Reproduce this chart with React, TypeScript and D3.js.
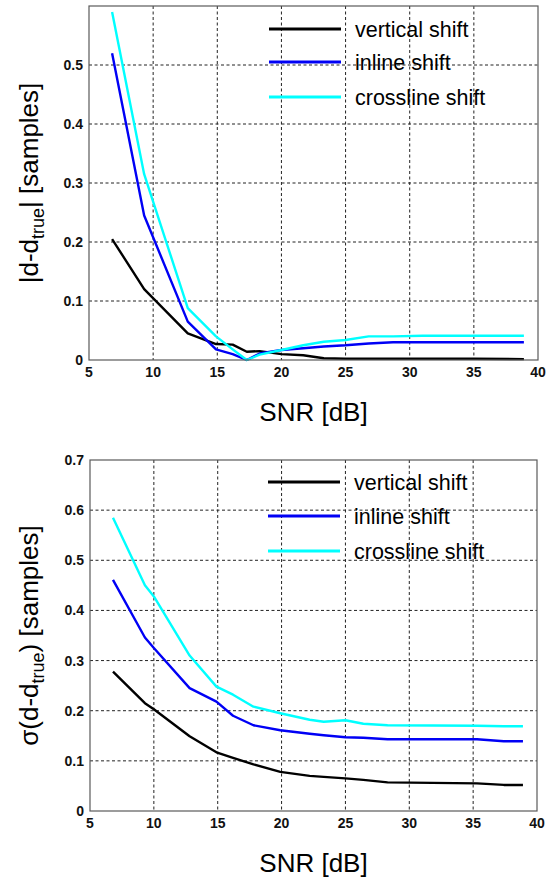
import React from 'react';
import * as d3 from 'd3';

// SNR sample positions (dB)
const snrTop = [6.8, 9.3, 12.7, 14.9, 16.2, 17.3, 18.3, 20, 21.7, 23.3, 25, 26.8, 28.7, 31, 35, 38.9];
const biasVertical = [0.205, 0.12, 0.045, 0.027, 0.026, 0.014, 0.015, 0.01, 0.008, 0.003, 0.002, 0.002, 0.002, 0.002, 0.002, 0.0015];
const biasInline = [0.52, 0.245, 0.065, 0.018, 0.01, 0.0, 0.011, 0.017, 0.02, 0.023, 0.025, 0.028, 0.03, 0.03, 0.03, 0.03];
const biasCrossline = [0.59, 0.315, 0.088, 0.04, 0.018, 0.0, 0.009, 0.017, 0.025, 0.031, 0.034, 0.04, 0.04, 0.041, 0.041, 0.041];

const snrBottom = [6.8, 9.3, 10, 12.8, 14.9, 16.2, 17.8, 19.9, 22.2, 23.3, 25, 26.4, 28.3, 35.3, 37.4, 38.9];
const stdVertical = [0.278, 0.215, 0.203, 0.149, 0.117, 0.106, 0.093, 0.078, 0.07, 0.068, 0.065, 0.062, 0.057, 0.055, 0.052, 0.052];
const stdInline = [0.461, 0.346, 0.325, 0.245, 0.218, 0.19, 0.171, 0.161, 0.154, 0.151, 0.147, 0.146, 0.143, 0.143, 0.139, 0.139];
const stdCrossline = [0.585, 0.45, 0.428, 0.31, 0.248, 0.232, 0.208, 0.195, 0.182, 0.178, 0.181, 0.174, 0.171, 0.17, 0.169, 0.169];

const seriesNames = ['vertical shift', 'inline shift', 'crossline shift'];
const seriesColors = ['#000000', '#0000f5', '#00ffff'];
const xTicks = [5, 10, 15, 20, 25, 30, 35, 40];
const topYTicks = [0, 0.1, 0.2, 0.3, 0.4, 0.5];
const bottomYTicks = [0, 0.1, 0.2, 0.3, 0.4, 0.5, 0.6, 0.7];

const FONT = '"Liberation Sans", Arial, Helvetica, sans-serif';

type PanelProps = {
  left: number;
  right: number;
  top: number;
  bottom: number;
  yMax: number;
  yTicks: number[];
  snr: number[];
  values: number[][];
  legendX: number;
  legendY: number[];
  yLabel: React.ReactNode;
};

const Panel = ({ left, right, top, bottom, yMax, yTicks, snr, values, legendX, legendY, yLabel }: PanelProps) => {
  const x = d3.scaleLinear().domain([5, 40]).range([left, right]);
  const y = d3.scaleLinear().domain([0, yMax]).range([bottom, top]);

  const line = d3
    .line<number>()
    .x((_, i) => x(snr[i]))
    .y((d) => y(d));

  const fmt = (v: number) => (v === 0 ? '0' : d3.format('.1f')(v));

  return (
    <g>
      {/* grid */}
      {xTicks
        .filter((t) => t > 5 && t < 40)
        .map((t) => (
          <line key={'gx' + t} x1={x(t)} x2={x(t)} y1={top} y2={bottom} stroke="#222" strokeWidth={1} strokeDasharray="3,2.5" />
        ))}
      {yTicks
        .filter((t) => t > 0 && t < yMax - 1e-9)
        .map((t) => (
          <line key={'gy' + t} x1={left} x2={right} y1={y(t)} y2={y(t)} stroke="#222" strokeWidth={1} strokeDasharray="3,2.5" />
        ))}

      {/* curves */}
      {values.map((vals, i) => (
        <path key={'s' + i} d={line(vals) || ''} fill="none" stroke={seriesColors[i]} strokeWidth={2.4} strokeLinejoin="round" />
      ))}

      {/* frame */}
      <rect x={left} y={top} width={right - left} height={bottom - top} fill="none" stroke="#5a5a5a" strokeWidth={1.2} />

      {/* tick labels */}
      {xTicks.map((t) => (
        <text key={'tx' + t} x={x(t)} y={bottom + 16.5} textAnchor="middle" fontFamily={FONT} fontWeight="bold" fontSize={14} fill="#111">
          {t}
        </text>
      ))}
      {yTicks.map((t) => (
        <text key={'ty' + t} x={left - 6} y={y(t) + 5} textAnchor="end" fontFamily={FONT} fontWeight="bold" fontSize={14} fill="#111">
          {fmt(t)}
        </text>
      ))}

      {/* legend */}
      {seriesNames.map((name, i) => (
        <g key={'l' + i}>
          <line x1={legendX} x2={legendX + 72} y1={legendY[i]} y2={legendY[i]} stroke={seriesColors[i]} strokeWidth={3.2} />
          <text x={legendX + 86} y={legendY[i] + 7.5} fontFamily={FONT} fontSize={21.5} fill="#000">
            {name}
          </text>
        </g>
      ))}

      {/* axis labels */}
      <text x={(left + right) / 2} y={bottom + 61} textAnchor="middle" fontFamily={FONT} fontSize={26} fill="#000">
        SNR [dB]
      </text>
      <text
        transform={`translate(38,${(top + bottom) / 2}) rotate(-90)`}
        textAnchor="middle"
        fontFamily={FONT}
        fontSize={26}
        fill="#000"
      >
        {yLabel}
      </text>
    </g>
  );
};

export default function App() {
  return (
    <svg width={548} height={881} style={{ position: 'absolute', left: 0, top: 0, background: '#fff' }}>
      <rect width={548} height={881} fill="#fff" />
      <Panel
        left={89}
        right={538}
        top={6}
        bottom={360}
        yMax={0.6}
        yTicks={topYTicks}
        snr={snrTop}
        values={[biasVertical, biasInline, biasCrossline]}
        legendX={269}
        legendY={[29, 62, 97]}
        yLabel={
          <>
            |d-d
            <tspan fontSize={18} dy={6}>true</tspan>
            <tspan dy={-6}>| [samples]</tspan>
          </>
        }
      />
      <Panel
        left={90}
        right={537}
        top={460}
        bottom={811}
        yMax={0.7}
        yTicks={bottomYTicks}
        snr={snrBottom}
        values={[stdVertical, stdInline, stdCrossline]}
        legendX={268}
        legendY={[482, 516, 551]}
        yLabel={
          <>
            σ(d-d
            <tspan fontSize={18} dy={6}>true</tspan>
            <tspan dy={-6}>) [samples]</tspan>
          </>
        }
      />
    </svg>
  );
}
